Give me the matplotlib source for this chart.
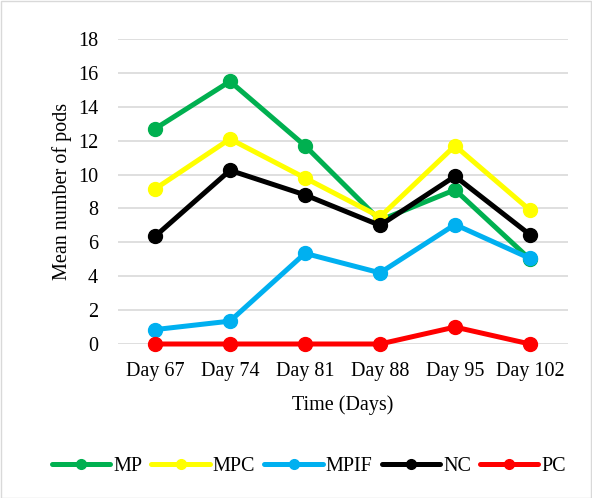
import matplotlib
matplotlib.use("Agg")
import matplotlib.pyplot as plt
from matplotlib.patches import Rectangle

days = ["Day 67", "Day 74", "Day 81", "Day 88", "Day 95", "Day 102"]
mp = [12.7, 15.5, 11.7, 7.3, 9.1, 5.0]
mpc = [9.15, 12.1, 9.8, 7.5, 11.7, 7.9]
mpif = [0.85, 1.35, 5.35, 4.2, 7.05, 5.05]
nc = [6.35, 10.25, 8.8, 7.0, 9.9, 6.45]
pc = [0.0, 0.0, 0.0, 0.0, 1.0, 0.0]

series = [("MP", mp, "#00B050"), ("MPC", mpc, "#FFFF00"), ("MPIF", mpif, "#00B0F0"),
          ("NC", nc, "#000000"), ("PC", pc, "#FF0000")]

plt.rcParams['font.family'] = ['Liberation Serif', 'DejaVu Serif']
FS = 14.5

fig = plt.figure(figsize=(5.92, 4.98), dpi=100)
ax = fig.add_axes([117.5/592, 1-344/498, 450/592, 305/498])

x = list(range(len(days)))
for name, vals, col in series:
    ax.plot(x, vals, color=col, lw=3.6, marker='o', ms=10, label=name,
            solid_capstyle='round', clip_on=False)

ax.set_xlim(-0.5, len(days)-0.5)
ax.set_ylim(0, 18)
ax.set_yticks(range(0, 19, 2))
ax.set_xticks(x)
ax.set_xticklabels(days)
ax.tick_params(length=0, labelsize=FS)
ax.tick_params(axis='y', pad=14)
ax.tick_params(axis='x', pad=13)
ax.yaxis.grid(True, color='#D9D9D9', lw=1.2)
ax.set_axisbelow(True)
for s in ax.spines.values():
    s.set_visible(False)
ax.set_xlabel("Time (Days)", fontsize=FS, labelpad=10)
ax.set_ylabel("Mean number of pods", fontsize=FS, labelpad=4)

leg = fig.legend(loc='center', bbox_to_anchor=(309/592, 1-466/498), ncol=5, frameon=False,
                 fontsize=FS, handlelength=2.9, handletextpad=0.15, columnspacing=0.45,
                 markerscale=0.7)

fig.patches.append(Rectangle((0.5/592, 0.5/498), 1-1.5/592, 1-1.5/498, transform=fig.transFigure,
                             fill=False, edgecolor='#D9D9D9', lw=1))
fig.savefig("out.png", dpi=100)
